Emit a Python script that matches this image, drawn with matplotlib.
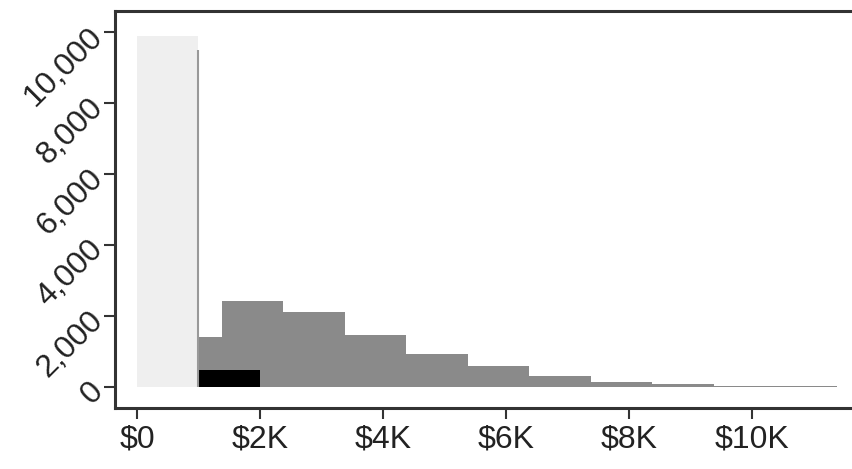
import numpy as np
import matplotlib

matplotlib.use("Agg")
import matplotlib.pyplot as plt
from matplotlib.ticker import FuncFormatter

# light bar: under $1K
low_edges = [0, 1000]
low_count = [9900]
low_edge_line = 9500          # thin grey edge at right of the light bar

# grey histogram, roughly $1K-wide bins
grey_edges = [1000, 1380, 2380, 3380, 4380, 5380, 6380, 7380, 8380, 9380, 10380, 11380]
grey_counts = [1420, 2430, 2120, 1460, 940, 600, 310, 150, 75, 35, 15]

# black bar
black_edges = [1000, 2000]
black_count = [480]

x_ticks = [0, 2000, 4000, 6000, 8000, 10000]
x_labels = ["$0", "$2K", "$4K", "$6K", "$8K", "$10K"]
y_ticks = [0, 2000, 4000, 6000, 8000, 10000]

plt.rcParams["font.family"] = ["Liberation Sans", "DejaVu Sans"]

fig = plt.figure(figsize=(8.52, 4.69), dpi=100)
ax = fig.add_axes([0.135, 0.130, 0.88, 0.8465])

ax.bar(low_edges[:-1], low_count, width=np.diff(low_edges), align="edge",
       color="#efefef", linewidth=0)
ax.vlines(low_edges[-1], 0, low_edge_line, color="#999999", linewidth=1.5)
ax.bar(grey_edges[:-1], grey_counts, width=np.diff(grey_edges), align="edge",
       color="#8a8a8a", linewidth=0)
ax.bar(black_edges[:-1], black_count, width=np.diff(black_edges), align="edge",
       color="#000000", linewidth=0)

ax.set_xlim(-358, 11840)
ax.set_ylim(-592, 10592)

ax.set_xticks(x_ticks)
ax.set_xticklabels(x_labels)
ax.set_yticks(y_ticks)
ax.yaxis.set_major_formatter(FuncFormatter(lambda v, _: f"{int(v):,}"))
for lab in ax.get_yticklabels():
    lab.set_rotation(45)
    lab.set_ha("right")
    lab.set_va("center")
    lab.set_rotation_mode("anchor")

ax.tick_params(axis="both", length=8, width=1.5, color="#333333",
               labelsize=23, labelcolor="#222222", pad=4)
for side in ("left", "bottom", "top"):
    ax.spines[side].set_linewidth(2.2)
    ax.spines[side].set_color("#333333")
ax.spines["right"].set_visible(False)

fig.savefig("out.png", dpi=100)
